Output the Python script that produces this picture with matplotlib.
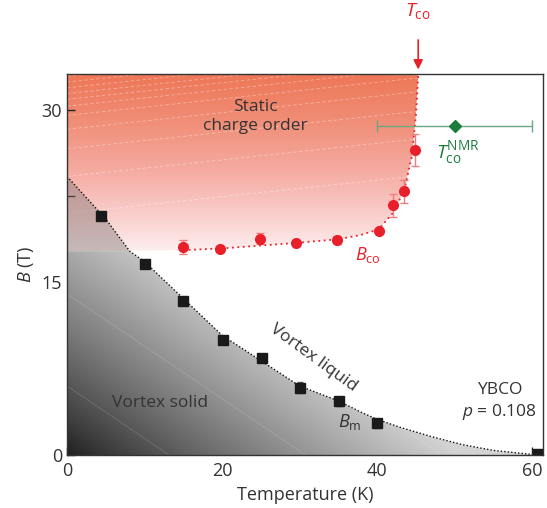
import matplotlib
matplotlib.use("Agg")
import matplotlib.pyplot as plt
import numpy as np
from matplotlib.colors import LinearSegmentedColormap
from matplotlib.patches import Polygon

plt.rcParams["font.family"] = ["Open Sans", "DejaVu Sans"]
plt.rcParams["mathtext.fontset"] = "custom"
plt.rcParams["mathtext.rm"] = "Open Sans"
plt.rcParams["mathtext.it"] = "Open Sans:italic"

# --- Data ---
# charge-order onset field B_co (red circles)
bco_T = [15.0, 19.7, 24.9, 29.5, 34.8, 40.2, 42.1, 43.5, 44.9]
bco_B = [18.1, 17.9, 18.8, 18.4, 18.7, 19.5, 21.7, 22.9, 26.5]
bco_err = [0.6, 0.0, 0.45, 0.0, 0.35, 0.0, 1.0, 1.0, 1.4]

# dotted B_co guide line
bco_line_T = [15.0, 20.0, 25.0, 30.0, 35.0, 37.8, 40.2, 42.0, 43.5, 44.5, 45.0, 45.3]
bco_line_B = [17.8, 17.95, 18.2, 18.45, 18.75, 19.1, 19.6, 21.0, 23.0, 26.0, 29.5, 33.0]

# vortex melting field B_m (black squares)
bm_T = [4.35, 10.06, 14.9, 20.1, 25.1, 30.06, 35.06, 40.0, 60.7]
bm_B = [20.8, 16.6, 13.4, 9.97, 8.47, 5.85, 4.67, 2.75, 0.08]
bm_err = [0.2, 0.2, 0.2, 0.2, 0.2, 0.45, 0.4, 0.4, 0.0]

# dotted B_m guide line
bm_line_T = [0.0, 5.0, 8.1, 10.0, 15.0, 20.0, 25.0, 30.0, 35.0, 38.0, 40.0, 43.0, 47.0, 51.0, 55.0, 60.0]
bm_line_B = [24.2, 20.5, 17.7, 16.8, 13.6, 10.4, 8.2, 6.0, 4.7, 3.7, 3.1, 2.4, 1.6, 0.9, 0.4, 0.05]

# NMR point
nmr_T, nmr_B, nmr_err = 50.0, 28.6, 10.0

B_FLOOR = 17.7
T_MAX, B_MAX = 61.4, 33.1

fig = plt.figure(figsize=(5.47, 5.08), dpi=100)
ax = fig.add_axes([0.1225, 0.1043, 0.8702, 0.75])

# --- red region: static charge order ---
red_cmap = LinearSegmentedColormap.from_list(
    "co", [(0.0, "#fdeeee"), (0.15, "#fad6d4"), (0.45, "#f5aba2"),
           (0.75, "#f08c74"), (1.0, "#ee7656")])
grad = np.linspace(0, 1, 256).reshape(-1, 1)
red_img = ax.imshow(grad, extent=[0, T_MAX, B_FLOOR, B_MAX], origin="lower",
                    cmap=red_cmap, aspect="auto", zorder=1, interpolation="bilinear")
red_poly = [(0, B_FLOOR)] + list(zip(bco_line_T, bco_line_B)) + [(0, B_MAX)]
red_patch = Polygon(red_poly, closed=True, transform=ax.transData, facecolor="none", edgecolor="none")
ax.add_patch(red_patch)
red_img.set_clip_path(red_patch)

# faint white texture lines in red region
for b0 in [32.9, 32.4, 31.9, 31.4, 30.9, 30.3, 29.5, 28.3, 26.6, 24.2, 21.0]:
    tt = np.array([0, 46])
    ln, = ax.plot(tt, b0 + 0.072 * tt, color="white", lw=0.6, ls=(0, (4, 3)), alpha=0.4, zorder=1.2)
    ln.set_clip_path(red_patch)

# --- gray region: vortex solid ---
TT, BB = np.meshgrid(np.linspace(0, T_MAX, 300), np.linspace(0, B_MAX, 300))
s = BB / 20.0 + TT / 42.0
val = np.clip(0.12 + 0.6 * s ** 0.85, 0, 0.83)
gray_img = ax.imshow(val, extent=[0, T_MAX, 0, B_MAX], origin="lower", cmap="gray",
                     vmin=0, vmax=1, aspect="auto", zorder=2, interpolation="bilinear")
low_T = [t for t in bm_line_T if t >= 8.1]
low_B = [b for t, b in zip(bm_line_T, bm_line_B) if t >= 8.1]
gray_poly = [(0, 0), (0, B_FLOOR)] + list(zip(low_T, low_B)) + [(60.0, 0)]
gray_patch = Polygon(gray_poly, closed=True, transform=ax.transData, facecolor="none", edgecolor="none")
ax.add_patch(gray_patch)
gray_img.set_clip_path(gray_patch)

for c0 in [6, 14, 22, 30, 38, 46, 54]:
    tt = np.array([0, 62])
    ln, = ax.plot(tt, c0 - 0.455 * tt, color="white", lw=0.5, alpha=0.18, zorder=2.2)
    ln.set_clip_path(gray_patch)

# overlap triangle (vortex solid under charge order)
hi_T = [t for t in bm_line_T if t <= 8.1]
hi_B = [b for t, b in zip(bm_line_T, bm_line_B) if t <= 8.1]
tri = [(0, B_FLOOR)] + list(zip(hi_T, hi_B))
ax.add_patch(Polygon(tri, closed=True, facecolor="#7a7070", edgecolor="none", alpha=0.42, zorder=2))

# --- guide lines ---
ax.plot(bco_line_T, bco_line_B, color="#e8202a", ls=(0, (1, 2)), lw=1.3, zorder=3)
ax.plot(bm_line_T, bm_line_B, color="#111111", ls=(0, (1, 1.5)), lw=1.0, zorder=3)

# --- data points ---
ax.errorbar(bm_T, bm_B, yerr=bm_err, fmt="s", color="#1a1a1a", ms=6.5,
            ecolor="#555555", elinewidth=1, capsize=2.5, zorder=5, clip_on=True)
ax.errorbar(bco_T, bco_B, yerr=bco_err, fmt="o", color="#e8202a", ms=7,
            ecolor="#f07c7c", elinewidth=1, capsize=3, zorder=5)
ax.errorbar([nmr_T], [nmr_B], xerr=[nmr_err], fmt="D", color="#1b7d3c", ms=6,
            ecolor="#6aa884", elinewidth=1, capsize=4, zorder=5)

# --- labels ---
txt = "#333333"
ax.text(24.3, 29.4, "Static\ncharge order", ha="center", va="center", fontsize=12.5,
        color=txt, linespacing=1.25, zorder=6)
ax.text(12.0, 4.5, "Vortex solid", ha="center", va="center", fontsize=12.5, color=txt, zorder=6)
ax.text(31.8, 8.4, "Vortex liquid", ha="center", va="center", fontsize=12.5, color=txt,
        rotation=-36, rotation_mode="anchor", zorder=6)
ax.text(55.8, 4.6, "YBCO\n$p$ = 0.108", ha="center", va="center", fontsize=12.5,
        color=txt, linespacing=1.3, zorder=6)
ax.text(37.2, 17.4, "$B_{\\rm co}$", color="#e8202a", fontsize=13, va="center", ha="left", zorder=6)
ax.text(34.9, 2.9, "$B_{\\rm m}$", color=txt, fontsize=13, va="center", ha="left", zorder=6)
ax.text(47.6, 26.3, "$T_{\\rm co}^{\\rm NMR}$", color="#1b7d3c", fontsize=14, va="center",
        ha="left", zorder=6)

# T_co arrow above the frame
ax.annotate("", xy=(45.3, B_MAX + 0.15), xytext=(45.3, 36.3),
            arrowprops=dict(arrowstyle="-|>", color="#e8202a", lw=1.2, mutation_scale=14),
            annotation_clip=False)
ax.text(45.3, 38.6, "$T_{\\rm co}$", color="#e8202a", fontsize=14, ha="center", va="center",
        clip_on=False)

# --- axes ---
ax.set_xlim(0, T_MAX)
ax.set_ylim(0, B_MAX)
ax.set_xticks([0, 20, 40, 60])
ax.set_xticks([10, 30, 50], minor=True)
ax.set_yticks([0, 15, 30])
ax.set_yticks([7.5, 22.5], minor=True)
ax.tick_params(which="both", direction="in", length=6, width=1, colors="#222222",
               labelcolor=txt, labelsize=13, top=False, right=False)
ax.tick_params(axis="x", pad=5)
ax.set_xlabel("Temperature (K)", fontsize=13, color=txt, labelpad=4)
ax.set_ylabel("$B$ (T)", fontsize=13, color=txt, labelpad=4)
for sp in ax.spines.values():
    sp.set_color("#333333")
    sp.set_linewidth(1.0)
    sp.set_zorder(7)

fig.savefig("out.png", dpi=100)
